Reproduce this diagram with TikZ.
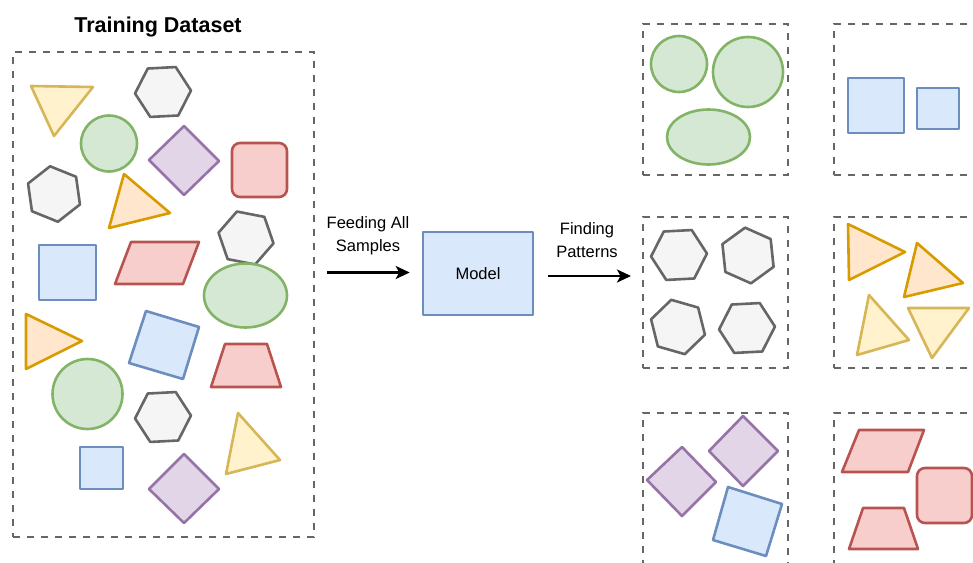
\documentclass[tikz,border=0pt]{standalone}
\usepackage{fontspec}
\setmainfont{Liberation Sans}
\usetikzlibrary{shapes.geometric,arrows.meta}
\definecolor{yF}{HTML}{FFF2CC}\definecolor{yD}{HTML}{D6B656}
\definecolor{oF}{HTML}{FFE6CC}\definecolor{oD}{HTML}{D79B00}
\definecolor{gF}{HTML}{D5E8D4}\definecolor{gD}{HTML}{82B366}
\definecolor{bF}{HTML}{DAE8FC}\definecolor{bD}{HTML}{6C8EBF}
\definecolor{rF}{HTML}{F8CECC}\definecolor{rD}{HTML}{B85450}
\definecolor{pF}{HTML}{E1D5E7}\definecolor{pD}{HTML}{9673A6}
\definecolor{hF}{HTML}{F5F5F5}\definecolor{hD}{HTML}{666666}
\begin{document}
\begin{tikzpicture}[x=1pt,y=-1pt,
  sh/.style={line width=2.6pt,line join=round},
  sYel/.style={sh,fill=yF,draw=yD},
  sOrg/.style={sh,fill=oF,draw=oD},
  sGrn/.style={sh,fill=gF,draw=gD},
  sBlu/.style={sh,fill=bF,draw=bD},
  sRed/.style={sh,fill=rF,draw=rD},
  sPur/.style={sh,fill=pF,draw=pD},
  hexa/.style={regular polygon,regular polygon sides=6,minimum size=56pt,inner sep=0pt,sh,fill=hF,draw=hD},
  dbox/.style={draw=hD,line width=2.4pt,dash pattern=on 7pt off 7pt,inner sep=0pt},
  cbox/.style={dbox,minimum width=145pt,minimum height=151pt},
  arr/.style={line width=2.6pt,-{Stealth[length=14pt,width=13pt,inset=3.5pt]}},
  lbl/.style={font=\fontsize{16.5}{23}\selectfont,align=center,text=black}]
\useasboundingbox (0,0) rectangle (973,562);
\clip (0,0) rectangle (973,562);

% title and dataset box
\node[font=\fontsize{21.5}{26}\selectfont\bfseries,anchor=base] (title) at (158,32) {Training Dataset};
\node[dbox,minimum width=301pt,minimum height=485pt] (ds) at (163.5,294.5) {};

% dataset shapes
\draw[sYel] (31,86) -- (93,87) -- (54,136) -- cycle;
\node[hexa,rotate=3] (h1) at (163,92) {};
\draw[sGrn] (109,143.5) circle[radius=28pt];
\draw[sPur] (184,126) -- (219,161) -- (184,195) -- (149,160) -- cycle;
\draw[sRed,rounded corners=8pt] (232,143) rectangle (287,197);
\node[hexa,rotate=38] (h2) at (54,194) {};
\draw[sOrg] (124,174) -- (170,213) -- (109,228) -- cycle;
\node[hexa,rotate=49] (h3) at (246,238) {};
\draw[sBlu] (39,245) rectangle (96,300);
\draw[sRed] (131,242) -- (199,242) -- (183,284) -- (115,284) -- cycle;
\draw[sGrn] (245.5,295.5) ellipse[x radius=41.5pt,y radius=32pt];
\draw[sOrg] (26,314) -- (82,341) -- (26,369) -- cycle;
\draw[sBlu] (146,311) -- (199,327) -- (183,379) -- (129,363) -- cycle;
\draw[sRed] (225,344) -- (267,344) -- (281,387) -- (211,387) -- cycle;
\draw[sGrn] (87.5,394) circle[radius=35pt];
\node[hexa,rotate=3] (h4) at (163,417) {};
\draw[sYel] (238,413) -- (280,460) -- (226,474) -- cycle;
\draw[sBlu] (80,447) rectangle (123,489);
\draw[sPur] (184,454) -- (219,489) -- (184,523) -- (149,489) -- cycle;

% middle
\node[lbl] (feed) at (368,236) {Feeding All\\Samples};
\node[sBlu,minimum width=110pt,minimum height=83pt,font=\fontsize{16.5}{20}\selectfont] (model) at (478,273.5) {Model};
\node[lbl] (find) at (587,240) {Finding\\Patterns};
\coordinate (a1s) at (327,272.5);
\draw[arr] (a1s) -- ([xshift=-12pt,yshift=1pt]model.west);
\coordinate (a2s) at (548,276);
\coordinate (a2e) at (631,276);
\draw[arr] (a2s) -- (a2e);

% cluster boxes
\node[cbox] (c1) at (715.5,99.5) {};
\node[cbox] (c2) at (906.5,99.5) {};
\node[cbox] (c3) at (715.5,292.5) {};
\node[cbox] (c4) at (906.5,292.5) {};
\node[cbox] (c5) at (715.5,488.5) {};
\node[cbox] (c6) at (906.5,488.5) {};

% cluster 1: green
\draw[sGrn] (679,64) circle[radius=28pt];
\draw[sGrn] (748,72) circle[radius=35pt];
\draw[sGrn] (708.5,137) ellipse[x radius=41.5pt,y radius=27.5pt];
% cluster 2: blue
\draw[sBlu] (848,78) rectangle (904,133);
\draw[sBlu] (917,88) rectangle (959,129);
% cluster 3: hexagons
\node[hexa,rotate=3] (h5) at (679,255) {};
\node[hexa,rotate=36] (h6) at (748,255.5) {};
\node[hexa,rotate=44] (h7) at (678,327) {};
\node[hexa,rotate=3] (h8) at (747,328) {};
% cluster 4: triangles
\draw[sOrg] (848,224) -- (905,252) -- (849,280) -- cycle;
\draw[sOrg] (917,243) -- (963,283) -- (904,297) -- cycle;
\draw[sYel] (869,295) -- (909,340) -- (857,355) -- cycle;
\draw[sYel] (908,308) -- (969,308) -- (932,358) -- cycle;
% cluster 5: diamonds and tilted square
\draw[sPur] (682,447) -- (716,482) -- (682,516) -- (647,480) -- cycle;
\draw[sPur] (743,416) -- (778,451) -- (743,486) -- (709,451) -- cycle;
\draw[sBlu] (728,487) -- (782,504) -- (766,556) -- (713,540) -- cycle;
% cluster 6: red shapes
\draw[sRed] (859,430) -- (924,430) -- (908,472) -- (842,472) -- cycle;
\draw[sRed,rounded corners=8pt] (917,468) rectangle (972,523);
\draw[sRed] (863,508) -- (904,508) -- (918,549) -- (849,549) -- cycle;
\end{tikzpicture}
\end{document}
